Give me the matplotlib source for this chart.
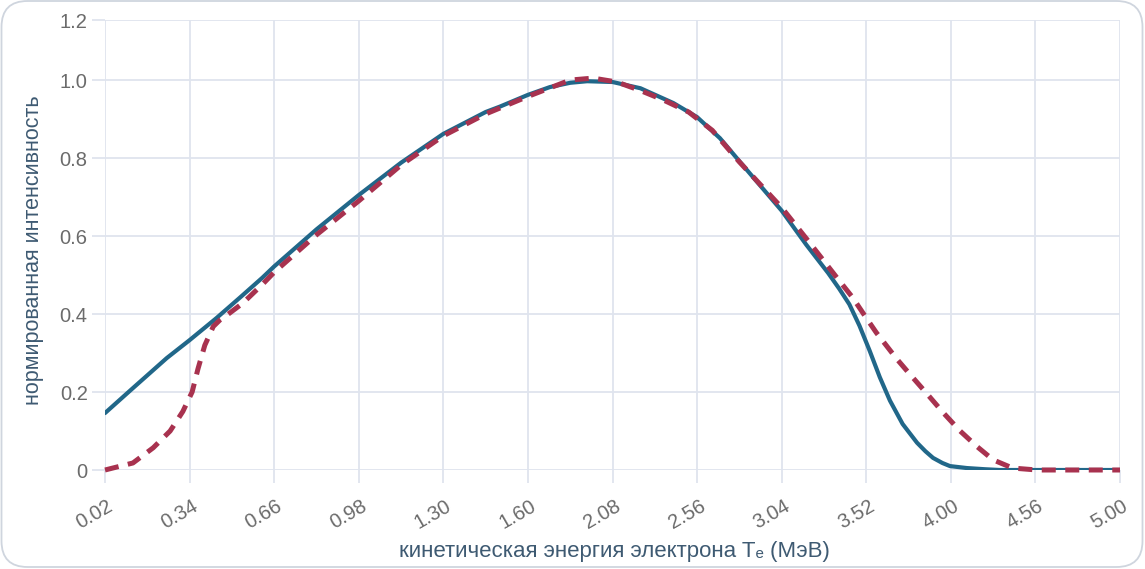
import matplotlib
matplotlib.use("Agg")
import matplotlib.pyplot as plt
from matplotlib.patches import FancyBboxPatch
import matplotlib.transforms as mtransforms

plt.rcParams['font.family'] = ['Liberation Sans', 'DejaVu Sans']

# category labels on the x axis (evenly spaced categories)
x_labels = ["0.02", "0.34", "0.66", "0.98", "1.30", "1.60", "2.08",
            "2.56", "3.04", "3.52", "4.00", "4.56", "5.00"]

# solid curve (theory): position in category units, value
solid_pos = [0, 0.33, 0.73, 1.0, 1.32, 1.6, 1.86, 2.0, 2.5, 3.0, 3.5, 4.0,
             4.5, 4.67, 5.0, 5.26, 5.5, 5.7, 6.0, 6.33, 6.72, 7.0, 7.27, 7.5,
             8.0, 8.29, 8.55, 8.68, 8.8, 8.92, 9.04, 9.16, 9.28, 9.43, 9.6,
             9.7, 9.79, 9.9, 9.99, 10.19, 10.4, 10.58, 11.0, 12.0]
solid_val = [0.146, 0.21, 0.287, 0.333, 0.39, 0.443, 0.493, 0.522, 0.617,
             0.705, 0.788, 0.862, 0.918, 0.932, 0.962, 0.982, 0.993, 0.997,
             0.995, 0.979, 0.941, 0.905, 0.851, 0.792, 0.665, 0.578, 0.505,
             0.465, 0.425, 0.37, 0.306, 0.238, 0.178, 0.118, 0.07, 0.048,
             0.031, 0.018, 0.01, 0.005, 0.002, 0.0, 0.0, 0.0]

# dashed curve (experiment)
dash_pos = [0, 0.33, 0.57, 0.77, 0.92, 1.03, 1.1, 1.18, 1.28, 1.36, 1.44,
            1.63, 1.87, 2.0, 2.5, 3.0, 3.5, 4.0, 4.5, 5.0, 5.5, 5.77, 6.05,
            6.32, 6.6, 6.9, 7.18, 7.5, 8.0, 8.29, 8.65, 8.84, 9.0, 9.12,
            9.36, 9.51, 9.72, 9.91, 10.11, 10.31, 10.5, 10.73, 11.02, 12.0]
dash_val = [0.0, 0.018, 0.057, 0.1, 0.15, 0.2, 0.26, 0.32, 0.368, 0.385,
            0.397, 0.428, 0.478, 0.507, 0.603, 0.69, 0.782, 0.857, 0.913,
            0.958, 1.0, 1.005, 0.995, 0.974, 0.949, 0.918, 0.871, 0.79,
            0.673, 0.594, 0.494, 0.442, 0.39, 0.352, 0.285, 0.247, 0.195,
            0.147, 0.1, 0.06, 0.026, 0.005, 0.0, 0.0]

y_ticks = [0, 0.2, 0.4, 0.6, 0.8, 1.0]
y_tick_labels = ["0", "0.2", "0.4", "0.6", "0.8", "1.0", "1.2"]

W, H = 1145, 569
fig = plt.figure(figsize=(W / 100, H / 100), dpi=100)

# card border (in inches)
card = FancyBboxPatch((0.015, 0.02), 11.41, 5.66,
                      boxstyle="round,pad=0,rounding_size=0.26",
                      transform=fig.dpi_scale_trans, facecolor="none",
                      edgecolor="#cfd5de", linewidth=1.3,
                      zorder=-1, clip_on=False)
fig.patches.append(card)

x0, x1, y0, y1 = 105, 1120, 470, 20
ax = fig.add_axes([x0 / W, (H - y0) / H, (x1 - x0) / W, (y0 - y1) / H])
ax.set_facecolor("none")

ymax = 1.154
ax.set_xlim(0, 12)
ax.set_ylim(0, ymax)

grid_c = "#dfe4ee"
ax.set_xticks(range(len(x_labels)))
ax.set_xticklabels(x_labels, rotation=30, ha="right", rotation_mode="anchor")
ax.set_yticks(y_ticks + [ymax])
ax.set_yticklabels(y_tick_labels)
ax.grid(True, color=grid_c, linewidth=1.3)
ax.set_axisbelow(True)
for s in ax.spines.values():
    s.set_visible(False)
ax.tick_params(axis="both", colors=grid_c, length=9.5, width=1.3,
               labelcolor="#6b6b6b", labelsize=14.5)
ax.tick_params(axis="x", pad=6)
ax.tick_params(axis="y", pad=3)
offset = mtransforms.ScaledTranslation(2 / 100, -5 / 100, fig.dpi_scale_trans)
for lab in ax.get_xticklabels():
    lab.set_transform(lab.get_transform() + offset)

ax.plot(solid_pos, solid_val, color="#216789", linewidth=3.0,
        solid_capstyle="round", solid_joinstyle="round", zorder=3)
ax.plot(dash_pos, dash_val, color="#a8324f", linewidth=3.6,
        dashes=(2.8, 1.9), zorder=4, clip_on=False)

fig.text(614 / W, 1 - 552 / H, "кинетическая энергия электрона Tₑ (МэВ)",
         color="#3e5a72", fontsize=16, ha="center", va="center")
fig.text(34 / W, 1 - 250 / H, "нормированная интенсивность",
         color="#3e5a72", fontsize=15.5, ha="center", va="center",
         rotation=90)

fig.savefig("out.png", dpi=100)
